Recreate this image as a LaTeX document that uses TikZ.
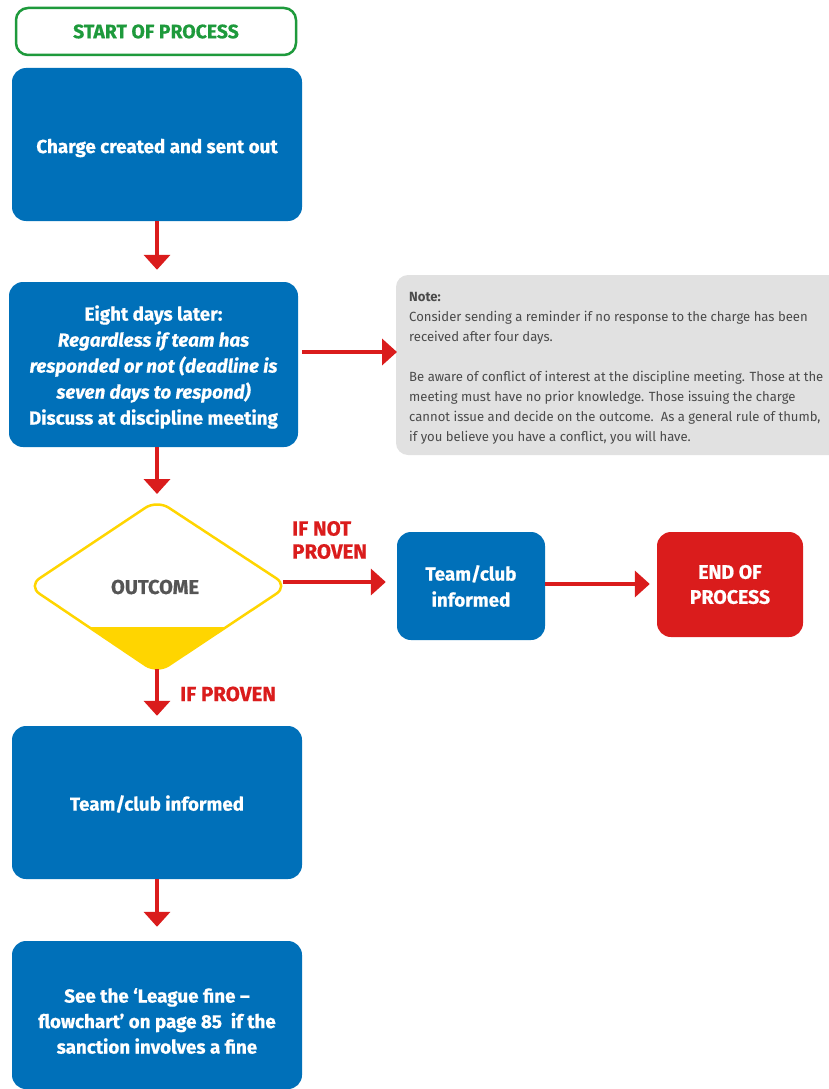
\documentclass[tikz,border=0pt]{standalone}
\usepackage{fontspec}
\setmainfont{Fira Sans}[BoldFeatures={FakeBold=0.7},BoldItalicFeatures={FakeBold=0.7}]
\newfontfamily\notefont[FakeStretch=0.985]{Fira Sans}
\usetikzlibrary{arrows.meta,shapes.geometric}
\definecolor{fblue}{HTML}{0070B9}
\definecolor{fred}{HTML}{DA1C1C}
\definecolor{fgreen}{HTML}{1E9A3C}
\definecolor{fyellow}{HTML}{FFD500}
\definecolor{fgrey}{HTML}{E1E1E1}
\definecolor{fdark}{HTML}{555555}
\definecolor{fnote}{HTML}{4A4A4A}
\tikzset{
  bluebox/.style={fill=fblue, rounded corners=14pt, text=white, align=center,
    font=\fontsize{18.8}{26}\selectfont\bfseries, inner sep=0pt},
  redbox/.style={fill=fred, rounded corners=14pt, text=white, align=center,
    font=\fontsize{19.5}{25}\selectfont\bfseries, inner sep=0pt},
  flowarrow/.style={draw=fred, line width=4pt, -{Triangle[width=26pt,length=15pt]}},
  redlabel/.style={text=fred, font=\fontsize{20.5}{23}\selectfont\bfseries, align=left, inner sep=0pt}
}
\begin{document}
\begin{tikzpicture}[x=1pt,y=-1pt]
\useasboundingbox (0,0) rectangle (829,1089);
% start
\node[draw=fgreen, line width=2.5pt, rounded corners=12pt, minimum width=280pt, minimum height=47pt,
  text=fgreen, font=\fontsize{19.4}{22}\selectfont\bfseries, inner sep=0pt] (start) at (156,31.5) {START OF PROCESS};
% box1
\node[bluebox, minimum width=290pt, minimum height=153pt] (b1) at (157,144.5)
  {\raisebox{-3.5pt}[\height][\depth]{Charge created and sent out}};
% box2
\node[bluebox, minimum width=289pt, minimum height=165pt] (b2) at (153.5,364.5) {};
\node[text=white, align=center, inner sep=0pt, font=\fontsize{18.8}{26}\selectfont\bfseries] (b2text) at (153.5,367)
  {Eight days later:\\ \itshape Regardless if team has\\ \itshape responded or not (deadline is\\ \itshape seven days to respond)\\ Discuss at discipline meeting};
% note
\fill[fgrey, rounded corners=12pt] (829,275) -- (396,275) -- (396,455) -- (829,455);
\node[anchor=north west, text=fnote, align=left, inner sep=0pt,
  font=\notefont\fontsize{13.3}{20}\selectfont] (note) at (409,292)
  {\textbf{Note:}\\
  Consider sending a reminder if no response to the charge has been\\
  received after four days.\\[20.5pt]
  Be aware of conflict of interest at the discipline meeting. Those at the\\
  meeting must have no prior knowledge. Those issuing the charge\\
  cannot issue and decide on the outcome.\ \ As a general rule of thumb,\\
  if you believe you have a conflict, you will have.};
% diamond
\coordinate (dT) at (157,500);
\coordinate (dR) at (288,586);
\coordinate (dB) at (157,673);
\coordinate (dL) at (28,586);
\coordinate (dRtip) at (283,582);
\coordinate (dBtip) at (157,669);
\begin{scope}
  \clip[rounded corners=14pt] (dT) -- (dR) -- (dB) -- (dL) -- cycle;
  \fill[fyellow] (20,627) rectangle (300,680);
\end{scope}
\draw[fyellow, line width=2.5pt, rounded corners=14pt] (dT) -- (dR) -- (dB) -- (dL) -- cycle;
\node[text=fdark, font=\fontsize{20}{22}\selectfont\bfseries, inner sep=0pt] (outcome) at (155,587) {OUTCOME};
% side boxes
\node[bluebox, minimum width=148pt, minimum height=108pt] (tc1) at (471,586) {Team/club\\informed};
\node[redbox, minimum width=146pt, minimum height=105pt] (end) at (730,584.5) {END OF\\PROCESS};
% box3, box4
\node[bluebox, minimum width=290pt, minimum height=153pt] (b3) at (157,802.5)
  {\raisebox{-1.5pt}[\height][\depth]{Team/club informed}};
\node[bluebox, minimum width=290pt, minimum height=148pt] (b4) at (157,1015) {};
\node[text=white, align=center, inner sep=0pt, font=\fontsize{18.8}{25.5}\selectfont\bfseries] (b4text) at (157,1021)
  {See the `League fine --\\ flowchart' on page 85\ \ if the\\ sanction involves a fine};
% arrows
\draw[flowarrow, shorten >=12pt] (b1.south) -- (b2.north -| b1.south);
\draw[flowarrow, shorten <=4pt, shorten >=12pt] (b2.east |- 0,352) -- (note.west |- 0,352);
\draw[flowarrow, shorten >=6pt] (b2.south -| dT) -- (dT);
\draw[flowarrow, shorten >=11pt] (dRtip) -- (tc1.west |- dRtip);
\draw[flowarrow, shorten >=7pt] (tc1.east |- 0,584) -- (end.west |- 0,584);
\draw[flowarrow, shorten >=10pt] (dBtip) -- (b3.north);
\draw[flowarrow, shorten >=14pt] (b3.south) -- (b4.north);
% labels
\node[redlabel, anchor=west] (lnp) at (292,540) {IF NOT\\PROVEN};
\node[redlabel, anchor=west] (lp) at (180,694) {IF PROVEN};
\end{tikzpicture}
\end{document}
